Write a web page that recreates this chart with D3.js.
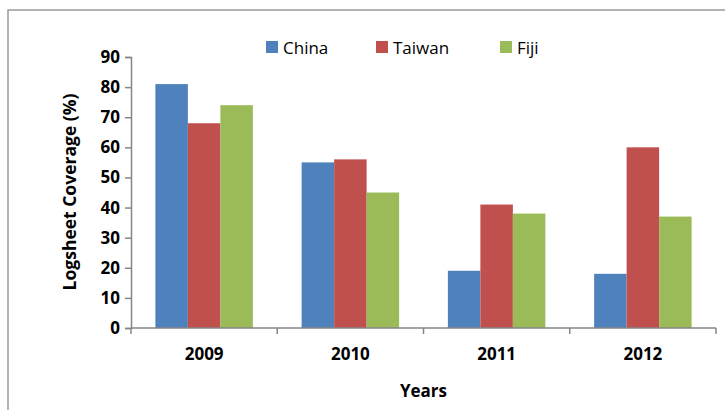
<!DOCTYPE html>
<html lang="en">
<head>
<meta charset="utf-8">
<script src="https://d3js.org/d3.v7.min.js"></script>
<style>
  body { margin: 0; background: #fff; }
  text { font-family: "Open Sans", sans-serif; }
</style>
</head>
<body>
<script>
// chart data
var years = ['2009', '2010', '2011', '2012'];
var seriesNames = ['China', 'Taiwan', 'Fiji'];
var china  = [81, 55, 19, 18];
var taiwan = [68, 56, 41, 60];
var fiji   = [74, 45, 38, 37];
var yTicks = [0, 10, 20, 30, 40, 50, 60, 70, 80, 90];
var colors = ['#4F81BD', '#C0504D', '#9BBB59'];

var values = [china, taiwan, fiji];
var width = 725, height = 410;
var plotL = 131, plotR = 716, plotT = 57, plotB = 328;

var svg = d3.select('body').append('svg').attr('width', width).attr('height', height);

// outer frame
svg.append('rect').attr('x', 8).attr('y', 10).attr('width', 730).attr('height', 420)
  .attr('fill', 'none').attr('stroke', '#8c8c8c').attr('stroke-width', 1.3);

var x = d3.scaleBand().domain(years).range([plotL, plotR]).paddingInner(0).paddingOuter(0);
var x1 = d3.scaleBand().domain(seriesNames).range([0, x.bandwidth()]).paddingInner(0).paddingOuter(0.75);
var y = d3.scaleLinear().domain([0, 90]).range([plotB, plotT]);

// bars
var rows = [];
years.forEach(function(yr, i) {
  seriesNames.forEach(function(s, j) {
    rows.push({ year: yr, series: s, value: values[j][i], color: colors[j] });
  });
});
svg.append('g').selectAll('rect').data(rows).join('rect')
  .attr('x', function(d) { return x(d.year) + x1(d.series); })
  .attr('y', function(d) { return y(d.value); })
  .attr('width', x1.bandwidth())
  .attr('height', function(d) { return plotB - y(d.value); })
  .attr('fill', function(d) { return d.color; });

// y axis
var yAxis = svg.append('g').attr('transform', 'translate(' + plotL + ',0)')
  .call(d3.axisLeft(y).tickValues(yTicks).tickSize(6).tickPadding(5));
yAxis.select('.domain').attr('stroke', '#868686').attr('stroke-width', 1.5);
yAxis.selectAll('.tick line').attr('stroke', '#868686').attr('stroke-width', 1.5);
yAxis.selectAll('.tick text').attr('font-size', 17).attr('font-weight', 'bold')
  .attr('fill', '#000').style('font-family', '"Open Sans", sans-serif');

// x axis
var xAxis = svg.append('g').attr('transform', 'translate(0,' + plotB + ')')
  .call(d3.axisBottom(x).tickSize(0).tickPadding(20));
xAxis.select('.domain').remove();
svg.append('line').attr('x1', plotL).attr('x2', plotR).attr('y1', plotB).attr('y2', plotB)
  .attr('stroke', '#868686').attr('stroke-width', 1.5);
var edges = years.map(function(d) { return x(d); }).concat([plotR]);
svg.append('g').selectAll('line').data(edges).join('line')
  .attr('x1', function(d) { return d; }).attr('x2', function(d) { return d; })
  .attr('y1', plotB).attr('y2', plotB + 6)
  .attr('stroke', '#868686').attr('stroke-width', 1.5);
xAxis.selectAll('.tick text').attr('font-size', 17).attr('font-weight', 'bold')
  .attr('fill', '#000').style('font-family', '"Open Sans", sans-serif');

// axis titles
svg.append('text').attr('x', (plotL + plotR) / 2).attr('y', 397)
  .attr('text-anchor', 'middle').attr('font-size', 17).attr('font-weight', 'bold')
  .text('Years');
svg.append('text').attr('transform', 'translate(76,192) rotate(-90)')
  .attr('text-anchor', 'middle').attr('font-size', 17.5).attr('font-weight', 'bold')
  .text('Logsheet Coverage (%)');

// legend
var legendX = [266, 376, 500];
var legend = svg.append('g').selectAll('g').data(seriesNames).join('g')
  .attr('transform', function(d, i) { return 'translate(' + legendX[i] + ',41)'; });
legend.append('rect').attr('width', 12).attr('height', 12)
  .attr('fill', function(d, i) { return colors[i]; });
legend.append('text').attr('x', 17).attr('y', 13).attr('font-size', 17)
  .attr('fill', '#000').text(function(d) { return d; });
</script>
</body>
</html>
